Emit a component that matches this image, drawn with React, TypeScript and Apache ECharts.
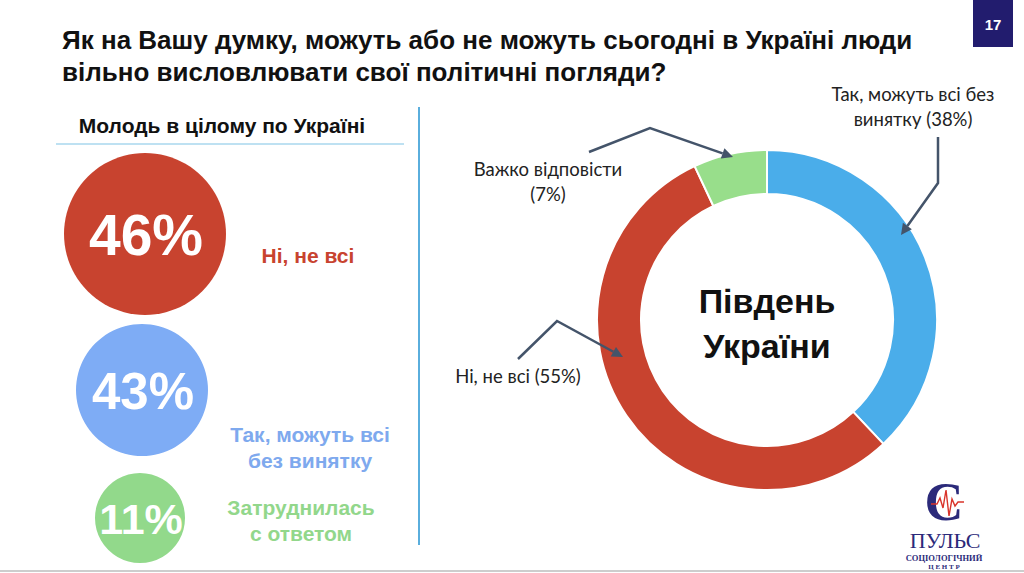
import React, { useEffect, useRef } from "react";
import * as echarts from "echarts";

const titleLines = [
  "Як на Вашу думку, можуть або не можуть сьогодні в Україні люди",
  "вільно висловлювати свої політичні погляди?",
];
const pageNumber = "17";
const youthHeading = "Молодь в цілому по Україні";
const youthValues = [46, 43, 11];
const youthLabels = ["Ні, не всі", "Так, можуть всі\nбез винятку", "Затруднилась\nс ответом"];
const regionTitle = "Південь\nУкраїни";
const donutNames = ["Так, можуть всі без винятку", "Ні, не всі", "Важко відповісти"];
const donutValues = [38, 55, 7];
const donutLabelHeads = ["Так, можуть всі без\nвинятку", "Ні, не всі", "Важко відповісти\n"];

const RED = "#C8432F";
const BLUE = "#4AADEA";
const GREEN = "#98DE8B";
const NAVY = "#221C6E";
const ARROW = "#44546A";

function arrow(pts: number[][]) {
  const n = pts.length;
  const [x1, y1] = pts[n - 2];
  const [x2, y2] = pts[n - 1];
  const a = Math.atan2(y2 - y1, x2 - x1);
  const L = 11, W = 5.5;
  const bx = x2 - L * Math.cos(a), by = y2 - L * Math.sin(a);
  const px = -Math.sin(a), py = Math.cos(a);
  const line = pts.slice(0, n - 1).concat([[bx, by]]);
  return [
    { type: "polyline", shape: { points: line }, style: { stroke: ARROW, lineWidth: 2.5, fill: null }, z: 10 },
    {
      type: "polygon",
      shape: { points: [[x2, y2], [bx + W * px, by + W * py], [bx - W * px, by - W * py]] },
      style: { fill: ARROW },
      z: 10,
    },
  ];
}

export default function App() {
  const ref = useRef<HTMLDivElement>(null);
  useEffect(() => {
    if (!ref.current) return;
    const chart = echarts.init(ref.current, null, { renderer: "svg" });
    const youthCircles = [
      { cx: 145, cy: 234, r: 81, color: RED, fs: 57, label: RED, lx: 308, ly: 255 },
      { cx: 142, cy: 390, r: 66, color: "#7EACF5", fs: 51, label: "#7EA9EE", lx: 310, ly: 447 },
      { cx: 140, cy: 518, r: 45, color: "#92D98B", fs: 43, label: "#92D78B", lx: 301, ly: 520 },
    ];
    const graphic: any[] = [
      ...titleLines.map((t, i) => ({
        type: "text",
        x: 62,
        y: 40 + i * 32,
        style: {
          text: t,
          fontFamily: "Liberation Sans, Arial",
          fontWeight: "bold",
          fontSize: 26,
          fill: "#111",
          verticalAlign: "middle",
        },
      })),
      { type: "rect", shape: { x: 973, y: 0, width: 40, height: 47 }, style: { fill: NAVY } },
      {
        type: "text",
        x: 993,
        y: 24,
        style: {
          text: pageNumber,
          fontFamily: "Liberation Sans, Arial",
          fontWeight: "bold",
          fontSize: 15,
          fill: "#fff",
          align: "center",
          verticalAlign: "middle",
        },
      },
      {
        type: "text",
        x: 222,
        y: 125,
        style: {
          text: youthHeading,
          fontFamily: "Liberation Sans, Arial",
          fontWeight: "bold",
          fontSize: 21,
          fill: "#111",
          align: "center",
          verticalAlign: "middle",
        },
      },
      { type: "line", shape: { x1: 56, y1: 144, x2: 404, y2: 144 }, style: { stroke: "#7FC3E6", lineWidth: 1.2 } },
      { type: "line", shape: { x1: 419, y1: 107, x2: 419, y2: 545 }, style: { stroke: "#5AAEDD", lineWidth: 2 } },
      { type: "line", shape: { x1: 0, y1: 571, x2: 1024, y2: 571 }, style: { stroke: "#BDBDBD", lineWidth: 1.5 } },
    ];
    youthCircles.forEach((c, i) => {
      graphic.push({ type: "circle", shape: { cx: c.cx, cy: c.cy, r: c.r }, style: { fill: c.color } });
      graphic.push({
        type: "text",
        x: c.cx + 1,
        y: c.cy + 1,
        style: {
          text: `${youthValues[i]}%`,
          fontFamily: "Liberation Sans, Arial",
          fontWeight: "bold",
          fontSize: c.fs,
          fill: "#fff",
          align: "center",
          verticalAlign: "middle",
        },
        z: 5,
      });
      graphic.push({
        type: "text",
        x: c.lx,
        y: c.ly,
        style: {
          text: youthLabels[i],
          fontFamily: "Liberation Sans, Arial",
          fontWeight: "bold",
          fontSize: 21,
          lineHeight: 26,
          fill: c.label,
          align: "center",
          verticalAlign: "middle",
        },
      });
    });
    const labelPos = [
      { x: 913, y: 106 },
      { x: 518, y: 376 },
      { x: 548, y: 181 },
    ];
    donutValues.forEach((v, i) => {
      graphic.push({
        type: "text",
        x: labelPos[i].x,
        y: labelPos[i].y,
        style: {
          text: `${donutLabelHeads[i]}${i === 2 ? "" : " "}(${v}%)`,
          fontFamily: "Lato, Open Sans, sans-serif",
          fontSize: 18.5,
          lineHeight: 25,
          fill: "#222",
          align: "center",
          verticalAlign: "middle",
        },
      });
    });
    graphic.push(...arrow([[938, 137], [938, 183], [901, 235]]));
    graphic.push(...arrow([[589, 152], [650, 128], [733, 157]]));
    graphic.push(...arrow([[518, 359], [557, 321], [623, 357]]));
    graphic.push({
      type: "text",
      x: 767,
      y: 323,
      style: {
        text: regionTitle,
        fontFamily: "Liberation Sans, Arial",
        fontWeight: "bold",
        fontSize: 34,
        lineHeight: 45,
        fill: "#111",
        align: "center",
        verticalAlign: "middle",
      },
    });
    // logo
    graphic.push({
      type: "text",
      x: 944,
      y: 502,
      style: {
        text: "С",
        fontFamily: "Liberation Serif, Times New Roman, serif",
        fontWeight: "bold",
        fontSize: 54,
        fill: "#2B2A7A",
        align: "center",
        verticalAlign: "middle",
      },
    });
    graphic.push({
      type: "polyline",
      shape: {
        points: [
          [931, 504], [937, 504], [940, 498], [943, 508], [946, 490], [949, 516], [952, 499], [955, 506], [958, 502], [964, 502],
        ],
      },
      style: { stroke: "#D9342B", lineWidth: 1.4, fill: null },
      z: 6,
    });
    graphic.push({
      type: "text",
      x: 945,
      y: 540,
      style: {
        text: "ПУЛЬС",
        fontFamily: "Liberation Serif, Times New Roman, serif",
        fontSize: 22,
        fill: "#2B2A7A",
        align: "center",
        verticalAlign: "middle",
      },
    });
    graphic.push({
      type: "text",
      x: 944,
      y: 558,
      style: {
        text: "СОЦІОЛОГІЧНИЙ",
        fontFamily: "Liberation Serif, Times New Roman, serif",
        fontWeight: "bold",
        fontSize: 8.5,
        fill: "#2B2A7A",
        align: "center",
        verticalAlign: "middle",
      },
    });
    graphic.push({
      type: "text",
      x: 944,
      y: 567,
      style: {
        text: "Ц Е Н Т Р",
        fontFamily: "Liberation Serif, Times New Roman, serif",
        fontWeight: "bold",
        fontSize: 7,
        fill: "#2B2A7A",
        align: "center",
        verticalAlign: "middle",
      },
    });

    chart.setOption({
      animation: false,
      backgroundColor: "#fff",
      graphic,
      series: [
        {
          type: "pie",
          center: [767, 320],
          radius: [126, 170],
          startAngle: 90,
          clockwise: true,
          label: { show: false },
          labelLine: { show: false },
          emphasis: { disabled: true },
          itemStyle: { borderColor: "#fff", borderWidth: 2 },
          data: donutValues.map((v, i) => ({
            name: donutNames[i],
            value: v,
            itemStyle: { color: [BLUE, RED, GREEN][i] },
          })),
        },
      ],
    });
    return () => chart.dispose();
  }, []);
  return (
    <div
      ref={ref}
      style={{ position: "absolute", left: 0, top: 0, width: 1024, height: 573 }}
    />
  );
}
